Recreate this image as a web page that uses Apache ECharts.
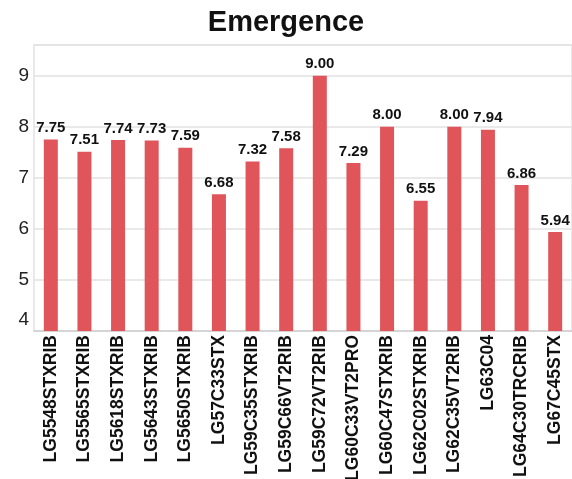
<!DOCTYPE html>
<html>
<head>
<meta charset="utf-8">
<script src="https://cdn.jsdelivr.net/npm/echarts@6/dist/echarts.min.js"></script>
<style>
  html, body { margin: 0; padding: 0; background: #fff; }
  #chart { width: 572px; height: 479px; }
</style>
</head>
<body>
<div id="chart"></div>
<script>
var hybrids = ['LG5548STXRIB', 'LG5565STXRIB', 'LG5618STXRIB', 'LG5643STXRIB', 'LG5650STXRIB', 'LG57C33STX',
  'LG59C35STXRIB', 'LG59C66VT2RIB', 'LG59C72VT2RIB', 'LG60C33VT2PRO', 'LG60C47STXRIB', 'LG62C02STXRIB',
  'LG62C35VT2RIB', 'LG63C04', 'LG64C30TRCRIB', 'LG67C45STX'];
var emergence = [7.75, 7.51, 7.74, 7.73, 7.59, 6.68, 7.32, 7.58, 9.00, 7.29, 8.00, 6.55, 8.00, 7.94, 6.86, 5.94];

var myChart = echarts.init(document.getElementById('chart'));

myChart.setOption({
  animation: false,
  title: {
    text: 'Emergence',
    left: 'center',
    top: 3,
    textStyle: {
      fontFamily: 'Liberation Sans',
      fontSize: 29,
      fontWeight: 'bold',
      color: '#111'
    }
  },
  grid: {
    left: 34,
    right: 0,
    top: 45,
    bottom: 148,
    outerBoundsMode: 'none',
    show: true,
    borderColor: '#e2e2e2',
    borderWidth: 1.5
  },
  xAxis: {
    type: 'category',
    data: hybrids,
    axisLine: { lineStyle: { color: '#cfcfcf', width: 1.5 } },
    axisTick: { show: false },
    axisLabel: {
      rotate: 90,
      margin: 4,
      interval: 0,
      color: '#111',
      fontFamily: 'Liberation Sans',
      fontWeight: 'bold',
      fontSize: 17.5
    }
  },
  yAxis: {
    type: 'value',
    min: 4,
    max: 9.6,
    interval: 1,
    axisLine: { show: false },
    axisTick: { show: false },
    splitLine: { lineStyle: { color: '#e2e2e2', width: 1.5 } },
    axisLabel: {
      margin: 5,
      color: '#222',
      fontFamily: 'Liberation Sans',
      fontSize: 19,
      showMaxLabel: false,
      // lowest label sits above the axis line in the original
      formatter: function (v) { return v === 4 ? '{low|4}' : v; },
      rich: {
        low: {
          color: '#222',
          fontFamily: 'Liberation Sans',
          fontSize: 19,
          padding: [0, 0, 22, 0]
        }
      }
    }
  },
  series: [{
    type: 'bar',
    data: emergence,
    barWidth: 14,
    itemStyle: { color: '#e0555a' },
    label: {
      show: true,
      position: 'top',
      distance: 4,
      color: '#111',
      fontFamily: 'Liberation Sans',
      fontWeight: 'bold',
      fontSize: 15,
      formatter: function (p) { return p.value.toFixed(2); }
    }
  }]
});
</script>
</body>
</html>
